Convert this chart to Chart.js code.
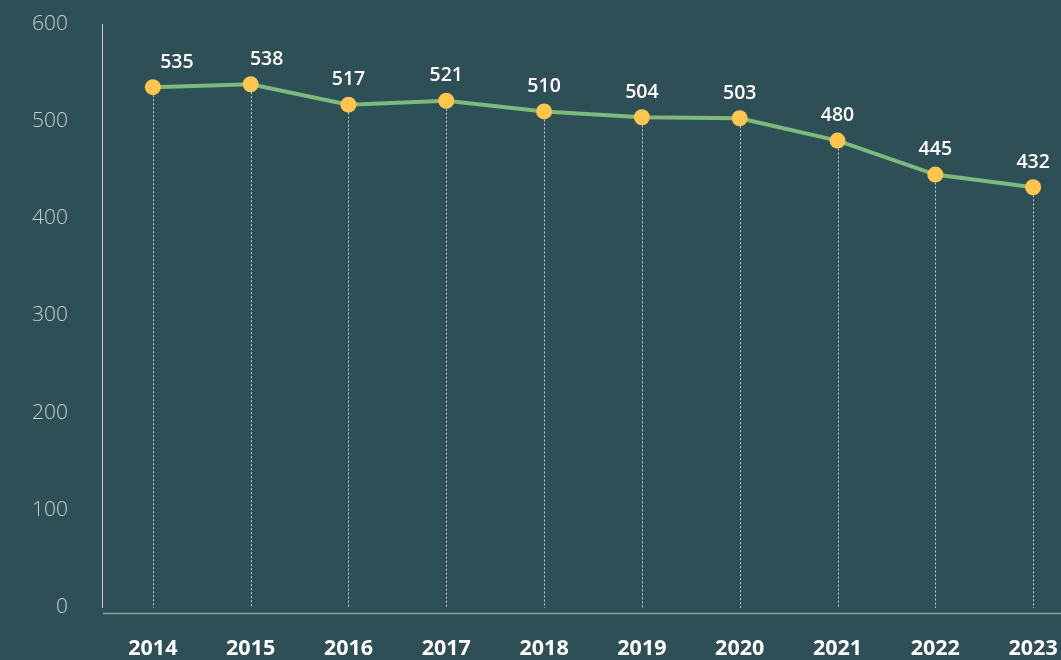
<!DOCTYPE html>
<html>
<head>
<meta charset="utf-8">
<script src="https://cdn.jsdelivr.net/npm/chart.js@4.4.1/dist/chart.umd.min.js"></script>
<style>
  html, body { margin: 0; padding: 0; background: #2f4f57; overflow: hidden; }
  #wrap { width: 1061px; height: 660px; position: relative; }
</style>
</head>
<body>
<div id="wrap"><canvas id="c"></canvas></div>
<script>
const years = [2014, 2015, 2016, 2017, 2018, 2019, 2020, 2021, 2022, 2023];
const values = [535, 538, 517, 521, 510, 504, 503, 480, 445, 432];
const yTicks = [0, 100, 200, 300, 400, 500, 600];

const FONT = "'Open Sans', 'Noto Sans', sans-serif";

const decor = {
  id: 'decor',
  beforeDatasetsDraw(chart) {
    const ctx = chart.ctx;
    const area = chart.chartArea;
    const meta = chart.getDatasetMeta(0);
    ctx.save();
    ctx.strokeStyle = 'rgba(220,228,230,0.85)';
    ctx.lineWidth = 1;
    ctx.setLineDash([2, 2]);
    meta.data.forEach(pt => {
      const x = Math.round(pt.x) + 0.5;
      ctx.beginPath();
      ctx.moveTo(x, pt.y);
      ctx.lineTo(x, area.bottom + 1);
      ctx.stroke();
    });
    ctx.setLineDash([]);
    ctx.strokeStyle = '#8d9fa3';
    ctx.lineWidth = 1.5;
    ctx.beginPath();
    ctx.moveTo(area.left + 1, area.bottom + 6.5);
    ctx.lineTo(chart.width, area.bottom + 6.5);
    ctx.stroke();
    ctx.restore();
  },
  afterDatasetsDraw(chart, args, opts) {
    const ctx = chart.ctx;
    const meta = chart.getDatasetMeta(0);
    ctx.save();
    ctx.fillStyle = '#ffffff';
    ctx.font = '600 19.5px ' + FONT;
    ctx.textAlign = 'center';
    ctx.textBaseline = 'middle';
    meta.data.forEach((pt, i) => {
      const dx = (opts.shift && opts.shift[i]) || 0;
      ctx.fillText(String(values[i]), pt.x + dx, pt.y - 25);
    });
    ctx.restore();
  }
};

new Chart(document.getElementById('c'), {
  type: 'line',
  data: {
    datasets: [{
      data: years.map((y, i) => ({ x: y, y: values[i] })),
      borderColor: '#7dba7e',
      borderWidth: 4,
      pointRadius: 8,
      pointHoverRadius: 8,
      pointBackgroundColor: '#ffc54d',
      pointBorderColor: '#ffc54d',
      pointBorderWidth: 0,
      tension: 0,
      clip: false
    }]
  },
  options: {
    responsive: true,
    maintainAspectRatio: false,
    animation: false,
    layout: { autoPadding: false, padding: { left: 32, top: 24, right: 0, bottom: 0 } },
    plugins: {
      legend: { display: false },
      tooltip: { enabled: false },
      decor: { shift: [24, 16, 0, 0, 0, 0, 0, 0, 0, 0] }
    },
    scales: {
      x: {
        type: 'linear',
        min: 2013.48,
        max: 2023.285,
        afterBuildTicks: s => { s.ticks = years.map(v => ({ value: v })); },
        afterFit: s => { s.height = 53; s.paddingLeft = 0; s.paddingRight = 0; },
        grid: { display: false, drawTicks: false },
        border: { display: false },
        ticks: {
          autoSkip: false,
          maxRotation: 0,
          padding: 29,
          color: '#ffffff',
          font: { family: FONT, size: 21.5, weight: 'bold' },
          callback: v => String(v)
        }
      },
      y: {
        min: 0,
        max: 600,
        afterBuildTicks: s => { s.ticks = yTicks.map(v => ({ value: v })); },
        afterFit: s => { s.width = 70; s.paddingTop = 0; s.paddingBottom = 0; },
        grid: { display: false, drawTicks: false },
        border: { display: true, color: 'rgba(220,228,230,0.85)', width: 1, dash: [2, 2] },
        ticks: {
          padding: 34,
          color: '#c6cfd1',
          font: { family: FONT, size: 21, weight: 300 }
        }
      }
    }
  },
  plugins: [decor]
});
</script>
</body>
</html>
